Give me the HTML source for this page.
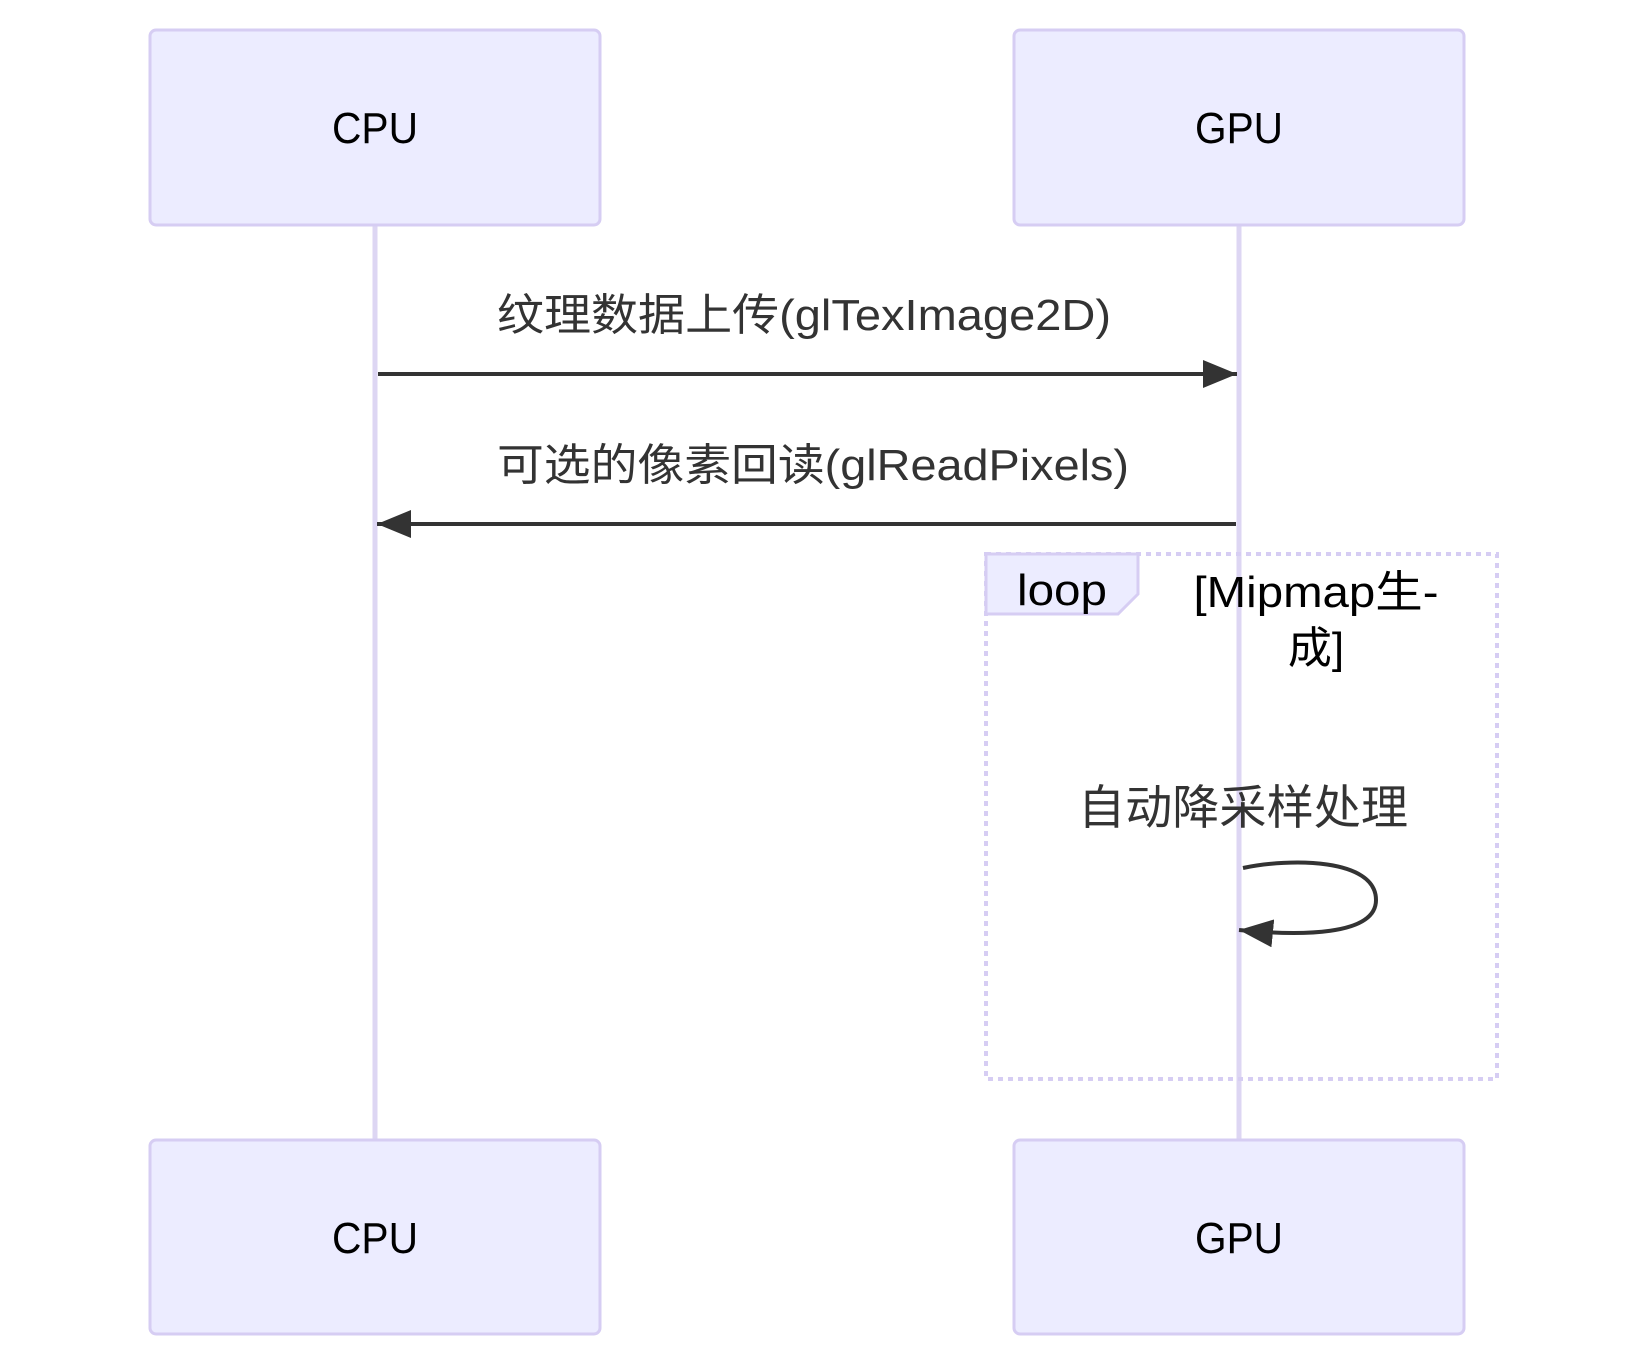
<!DOCTYPE html>
<html><head><meta charset="utf-8"><style>
html,body{margin:0;padding:0;background:#fff;}
svg{display:block;}
text{font-family:"Liberation Sans","Noto Sans CJK SC",sans-serif;fill:#333;}
</style></head><body>
<svg width="1647" height="1368" viewBox="0 0 1647 1368" xmlns="http://www.w3.org/2000/svg">
<defs>
<marker id="ah2" viewBox="0 0 34 28" refX="34" refY="14" markerWidth="34" markerHeight="28" markerUnits="userSpaceOnUse" orient="auto">
<path d="M0,0 L34,14 L0,28 z" fill="#333"/>
</marker>
</defs>
<line x1="375" y1="225" x2="375" y2="1140" stroke="#ddd6f3" stroke-width="5"/>
<line x1="1239" y1="225" x2="1239" y2="1140" stroke="#ddd6f3" stroke-width="5"/>
<rect x="150" y="30" width="450" height="195" rx="6" fill="#ececff" stroke="#d6cdf3" stroke-width="3"/>
<rect x="1014" y="30" width="450" height="195" rx="6" fill="#ececff" stroke="#d6cdf3" stroke-width="3"/>
<rect x="150" y="1140" width="450" height="194" rx="6" fill="#ececff" stroke="#d6cdf3" stroke-width="3"/>
<rect x="1014" y="1140" width="450" height="194" rx="6" fill="#ececff" stroke="#d6cdf3" stroke-width="3"/>
<g font-size="44" text-anchor="middle" style="fill:#000">
<text x="375" y="143" style="fill:#000" textLength="86" lengthAdjust="spacingAndGlyphs">CPU</text>
<text x="1239" y="143" style="fill:#000" textLength="88" lengthAdjust="spacingAndGlyphs">GPU</text>
<text x="375" y="1253" style="fill:#000" textLength="86" lengthAdjust="spacingAndGlyphs">CPU</text>
<text x="1239" y="1253" style="fill:#000" textLength="88" lengthAdjust="spacingAndGlyphs">GPU</text>
</g>
<g font-size="44" text-anchor="middle">
<text x="804" y="330" textLength="614" lengthAdjust="spacingAndGlyphs">纹理数据上传(glTexImage2D)</text>
<text x="813" y="480" textLength="632" lengthAdjust="spacingAndGlyphs">可选的像素回读(glReadPixels)</text>
</g>
<line x1="378" y1="374" x2="1237" y2="374" stroke="#333" stroke-width="4" marker-end="url(#ah2)"/>
<line x1="1236" y1="524" x2="377" y2="524" stroke="#333" stroke-width="4" marker-end="url(#ah2)"/>
<rect x="986" y="554" width="511" height="525" fill="none" stroke="#d6cdf3" stroke-width="4" stroke-dasharray="5,5"/>
<path d="M986,554 L1138,554 L1138,594 L1118,614 L986,614 Z" fill="#ececff" stroke="#d6cdf3" stroke-width="3"/>
<text x="1062" y="605" font-size="44" text-anchor="middle" style="fill:#000" textLength="90" lengthAdjust="spacingAndGlyphs">loop</text>
<g font-size="44" text-anchor="middle">
<text x="1316" y="607" style="fill:#000" textLength="245" lengthAdjust="spacingAndGlyphs">[Mipmap生-</text>
<text x="1316" y="663" style="fill:#000">成]</text>
</g>
<text x="1243" y="824" font-size="47" text-anchor="middle" textLength="330" lengthAdjust="spacingAndGlyphs">自动降采样处理</text>
<path d="M1243,868 C1290,858 1376,858 1376,900 C1376,936 1300,936 1239,930" fill="none" stroke="#333" stroke-width="4" marker-end="url(#ah2)"/>
</svg>
</body></html>
